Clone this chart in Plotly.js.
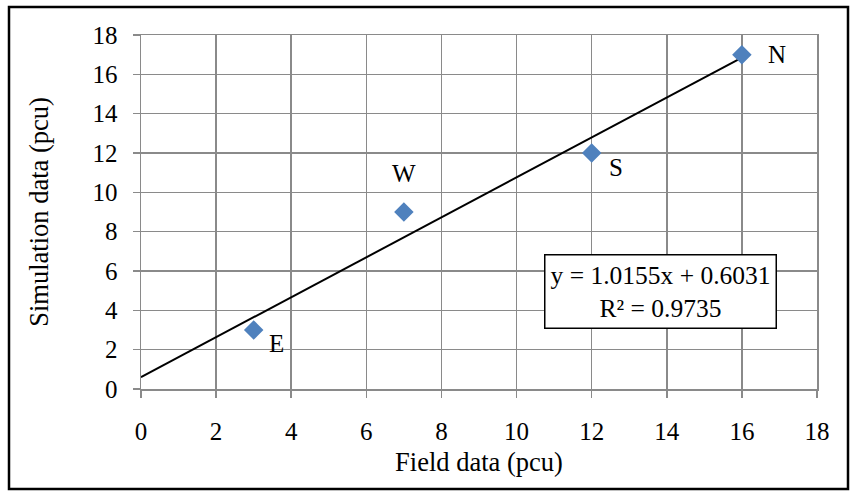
<!DOCTYPE html>
<html>
<head>
<meta charset="utf-8">
<script src="https://cdn.plot.ly/plotly-3.0.1.min.js"></script>
<style>html,body{margin:0;padding:0;background:#fff}#chart{width:850px;height:491px}</style>
</head>
<body>
<div id="chart"></div>
<script>
const pointLabels = ["E", "W", "S", "N"];
const fieldData = [3, 7, 12, 16];
const simulationData = [3, 9, 12, 17];
const trendSlope = 1.0155;
const trendIntercept = 0.6031;
const rSquared = 0.9735;
const xTicks = [0, 2, 4, 6, 8, 10, 12, 14, 16, 18];
const yTicks = [0, 2, 4, 6, 8, 10, 12, 14, 16, 18];

const trendX = [0, Math.max(...fieldData)];
const trendY = trendX.map(x => trendSlope * x + trendIntercept);

const FONT = "Liberation Serif";
const gridCol = '#8a8a8a';

const labelShift = {
  E: [23, -13],
  W: [0, 39],
  S: [24, -14],
  N: [35, 0]
};

const annotations = pointLabels.map((lab, i) => ({
  x: fieldData[i], y: simulationData[i], xref: 'x', yref: 'y',
  text: lab, showarrow: false,
  xshift: labelShift[lab][0], yshift: labelShift[lab][1],
  font: {family: FONT, size: 25, color: '#000'}
}));
annotations.push({
  x: 13.82, y: 4.98, xref: 'x', yref: 'y',
  text: 'y = ' + trendSlope.toFixed(4) + 'x + ' + trendIntercept.toFixed(4) + '<br>R² = ' + rSquared.toFixed(4),
  showarrow: false, align: 'center',
  bordercolor: '#000', borderwidth: 1.5, borderpad: 5, bgcolor: '#fff',
  font: {family: FONT, size: 25.5, color: '#000'}
});

const traces = [
  {
    x: trendX, y: trendY, type: 'scatter', mode: 'lines',
    line: {color: '#000', width: 2}, hoverinfo: 'skip', showlegend: false
  },
  {
    x: fieldData, y: simulationData, type: 'scatter', mode: 'markers',
    marker: {symbol: 'diamond', size: 15, color: '#4F81BD'},
    showlegend: false
  }
];

const axisCommon = {
  showgrid: true, gridcolor: gridCol, gridwidth: 1.5,
  zeroline: false, showline: true, linecolor: gridCol, linewidth: 1.5, mirror: true,
  ticks: 'outside', ticklen: 7, tickcolor: gridCol, tickwidth: 1.5,
  tickfont: {family: FONT, size: 25, color: '#000'},
  fixedrange: true
};

const layout = {
  width: 850, height: 491,
  font: {family: FONT, size: 25, color: '#000'},
  margin: {l: 141, r: 33, t: 35, b: 102},
  paper_bgcolor: '#fff', plot_bgcolor: '#fff',
  showlegend: false,
  xaxis: Object.assign({}, axisCommon, {
    range: [0, 18], tickvals: xTicks, ticktext: xTicks.map(String),
    ticklabelstandoff: 12,
    title: {text: 'Field data (pcu)', font: {family: FONT, size: 26.5, color: '#000'}, standoff: 9}
  }),
  yaxis: Object.assign({}, axisCommon, {
    range: [0, 18], tickvals: yTicks, ticktext: yTicks.map(String),
    ticklabelstandoff: 10,
    title: {text: 'Simulation data (pcu)', font: {family: FONT, size: 26.5, color: '#000'}, standoff: 36}
  }),
  annotations: annotations,
  shapes: [{
    type: 'rect', xref: 'paper', yref: 'paper',
    x0: (9 - 141) / 676, x1: (848 - 141) / 676,
    y0: (389 - 489) / 354, y1: (389 - 7) / 354,
    line: {color: '#000', width: 2.5}, fillcolor: 'rgba(0,0,0,0)', layer: 'below'
  }]
};

Plotly.newPlot('chart', traces, layout, {displayModeBar: false, staticPlot: true});
</script>
</body>
</html>
